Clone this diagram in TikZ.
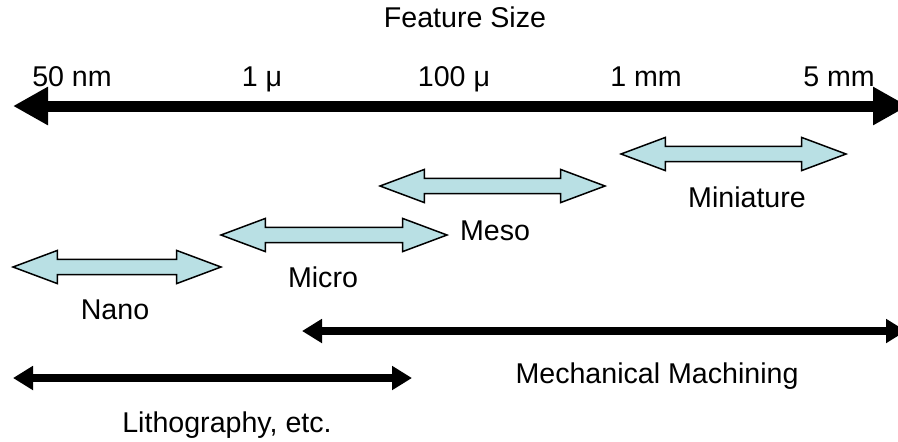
\documentclass[tikz,border=0pt]{standalone}
\usepackage{fontspec}
\setmainfont{Liberation Sans}
\usetikzlibrary{arrows.meta,
shapes.arrows,
positioning}
\definecolor{bandblue}{RGB}{185,224,228}

\begin{document}
\begin{tikzpicture} [x = 0.5pt,
        y = -0.5pt,
        caption/.style={anchor = base, inner sep = 0pt,
                font = \fontsize{14.3}{17}\selectfont},
        size axis/.style={line width = 5.5pt,
                {Triangle[length = 17.5pt, width = 18pt]}-{Triangle[length = 17.5pt, width = 18pt]}},
        process span/.style={line width = 4pt,
                {Triangle[length = 10pt, width = 11.5pt]}-{Triangle[length = 10pt, width = 11.5pt]}},
        size band/.style={double arrow, draw, fill = bandblue,
                line width = 0.75pt, inner xsep = 0pt, inner ysep = 3.4pt,
                double arrow head extend = 4.5pt,
                double arrow tip angle = 41}]

    \useasboundingbox (0, 0) rectangle (898, 441);
    \clip (0, 0) rectangle (898, 441);

    % feature size scale
    \node [caption] (title) at (465, 27) {Feature Size};

    \coordinate (axis_l) at (13, 106);
    \coordinate (axis_r) at (908, 106);
    \draw [size axis] (axis_l) -- (axis_r);

    \node [caption] (s_50nm)  at (72, 86)  {50 nm};
    \node [caption] (s_1u)    at (262, 86) {1 μ};
    \node [caption] (s_100u)  at (454, 86) {100 μ};
    \node [caption] (s_1mm)   at (646, 86) {1 mm};
    \node [caption] (s_5mm)   at (839, 86) {5 mm};

    % size bands
    \node [
        size band,
        minimum height = 104pt
    ] (nano) at (117, 267) {};

    \node [
        size band,
        minimum height = 113pt
    ] (micro) at (334, 235) {};

    \node [
        size band,
        minimum height = 112.5pt
    ] (meso) at (492.5, 186) {};

    \node [
        size band,
        minimum height = 112.5pt
    ] (mini) at (733.5, 154) {};

    \node [caption] (nano_leg)  at (115, 319) {Nano};
    \node [caption] (micro_leg) at (323, 287) {Micro};
    \node [caption] (meso_leg)  at (495, 240) {Meso};
    \node [caption] (mini_leg)  at (747, 207) {Miniature};

    % processes
    \coordinate (mech_l) at (302, 331);
    \coordinate (mech_r) at (906, 331);
    \draw [process span] (mech_l) -- (mech_r);

    \coordinate (litho_l) at (13, 378);
    \coordinate (litho_r) at (412, 378);
    \draw [process span] (litho_l) -- (litho_r);

    \node [caption] (mech_leg)  at (657, 383) {Mechanical Machining};
    \node [caption] (litho_leg) at (227, 432) {Lithography, etc.};

\end{tikzpicture}
\end{document}
